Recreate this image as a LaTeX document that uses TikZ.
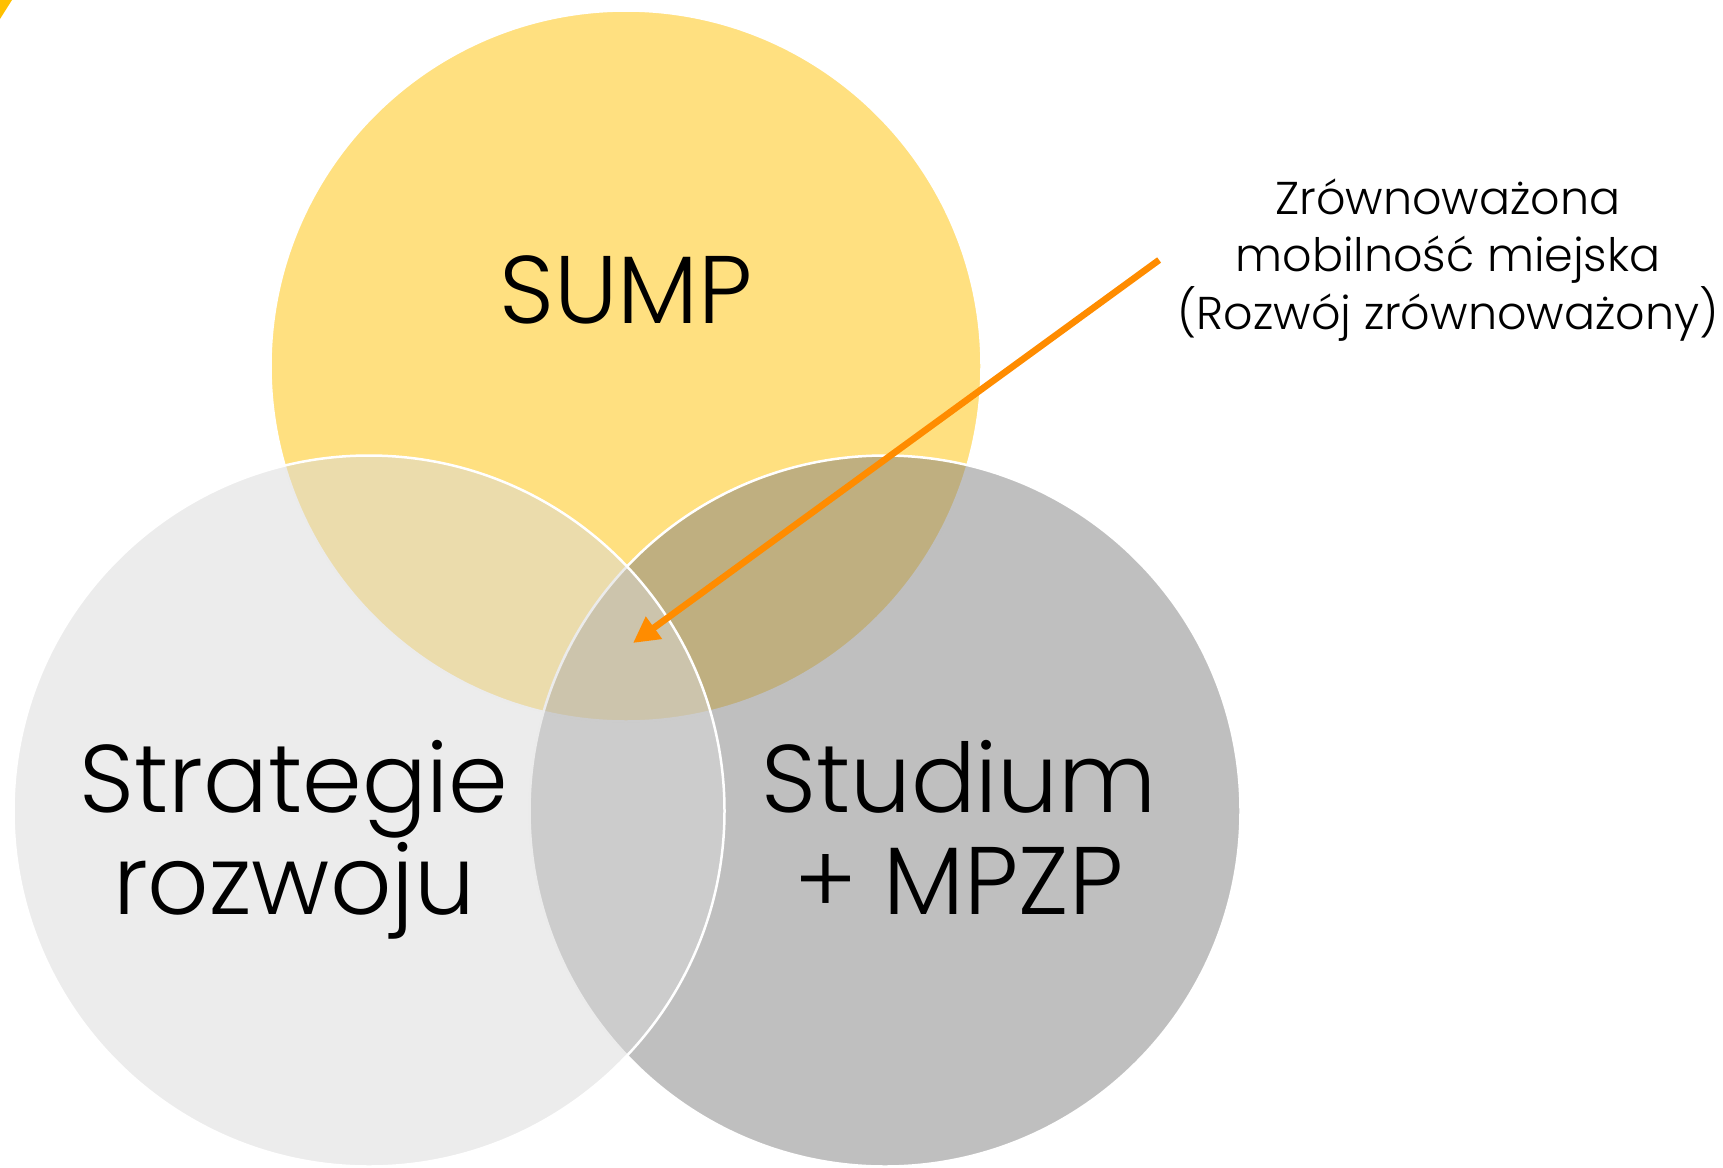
\documentclass[tikz,border=0pt]{standalone}
\usepackage{fontspec}
\setmainfont{Poppins}[UprightFont={* Light}]
\usetikzlibrary{arrows.meta}
\definecolor{sumpyellow}{RGB}{255,224,128}
\definecolor{studgrey}{RGB}{128,128,128}
\definecolor{stratgrey}{RGB}{217,217,217}
\definecolor{arroworange}{RGB}{255,140,0}
\definecolor{cornergold}{RGB}{255,192,0}
\begin{document}
\begin{tikzpicture}[x=0.5pt,y=-0.5pt]
      \useasboundingbox (0,0) rectangle (1723,1167);
      \fill[cornergold] (0,0) -- (12,0) -- (0,19) -- cycle;

      \begin{scope}[every node/.style={circle, draw=white, line width=1.25pt, inner sep=0pt, minimum size=355.5pt}]
        \node[fill=sumpyellow] (sump) at (626,366) {};
        \node[fill=studgrey, fill opacity=.5] (stud) at (885,811) {};
        \node[fill=stratgrey, fill opacity=.5] (strat) at (369,811) {};
      \end{scope}

      \coordinate (tip) at (633,643);

      \begin{scope}[every node/.style={font=\fontsize{48}{51}\selectfont, align=center}]
        \node (sumplabel)  at (626,290) {SUMP};
        \node (stratlabel) at (294,840) {Strategie\\rozwoju};
        \node (studlabel)  at (959,827) {Studium\\+ MPZP};
      \end{scope}

      \node[font=\fontsize{23}{28.75}\selectfont, align=center, inner xsep=9pt, inner ysep=3pt] (note) at (1448,260) {Zrównoważona\\mobilność miejska\\(Rozwój zrównoważony)};

      \draw[arroworange, line width=3.3pt, -{Triangle[length=13pt,width=13pt]}] (note.west) -- (tip);

    \end{tikzpicture}
\end{document}
